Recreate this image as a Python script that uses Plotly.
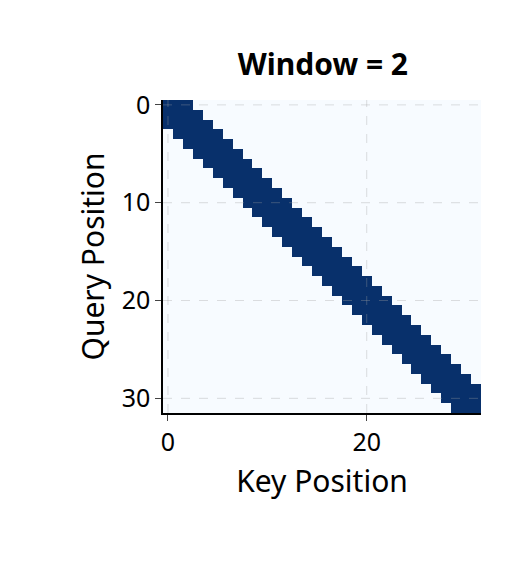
import plotly.graph_objects as go

# attention mask rows (1 = attended), window = 2
mask_rows = [
    "11100000000000000000000000000000",
    "11110000000000000000000000000000",
    "11111000000000000000000000000000",
    "01111100000000000000000000000000",
    "00111110000000000000000000000000",
    "00011111000000000000000000000000",
    "00001111100000000000000000000000",
    "00000111110000000000000000000000",
    "00000011111000000000000000000000",
    "00000001111100000000000000000000",
    "00000000111110000000000000000000",
    "00000000011111000000000000000000",
    "00000000001111100000000000000000",
    "00000000000111110000000000000000",
    "00000000000011111000000000000000",
    "00000000000001111100000000000000",
    "00000000000000111110000000000000",
    "00000000000000011111000000000000",
    "00000000000000001111100000000000",
    "00000000000000000111110000000000",
    "00000000000000000011111000000000",
    "00000000000000000001111100000000",
    "00000000000000000000111110000000",
    "00000000000000000000011111000000",
    "00000000000000000000001111100000",
    "00000000000000000000000111110000",
    "00000000000000000000000011111000",
    "00000000000000000000000001111100",
    "00000000000000000000000000111110",
    "00000000000000000000000000011111",
    "00000000000000000000000000001111",
    "00000000000000000000000000000111",
]
z = [[int(c) for c in row] for row in mask_rows]

x_ticks = [0, 20]
y_ticks = [0, 10, 20, 30]

fig = go.Figure(go.Heatmap(
    z=z, colorscale=[[0, "#f7fbff"], [1, "#08306b"]],
    showscale=False, zmin=0, zmax=1,
))

# dashed grid drawn over the heatmap
grid = dict(color="rgba(160,160,160,0.35)", width=1, dash="dash")
for v in x_ticks:
    fig.add_shape(type="line", xref="x", yref="paper", x0=v, x1=v, y0=0, y1=1, line=grid)
for v in y_ticks:
    fig.add_shape(type="line", xref="paper", yref="y", x0=0, x1=1, y0=v, y1=v, line=grid)

fig.update_layout(
    width=508, height=574,
    margin={"l": 155, "r": 35, "t": 92, "b": 169},
    paper_bgcolor="white", plot_bgcolor="white",
    font=dict(family="Noto Sans", size=25, color="black"),
    title=dict(text="<b>Window = 2</b>", x=0.62, xanchor="center", y=0.92, font=dict(size=30)),
    xaxis=dict(title=dict(text="Key Position", standoff=14), range=[-0.5, 31.5],
               tickvals=x_ticks, ticks="outside", ticklen=6, showline=True,
               linecolor="black", linewidth=1.5, showgrid=False, zeroline=False),
    yaxis=dict(title=dict(text="Query Position", standoff=8), range=[31.5, -0.5],
               tickvals=y_ticks, ticks="outside", ticklen=6, showline=True,
               linecolor="black", linewidth=1.5, showgrid=False, zeroline=False),
)

fig.write_html("out.html")
